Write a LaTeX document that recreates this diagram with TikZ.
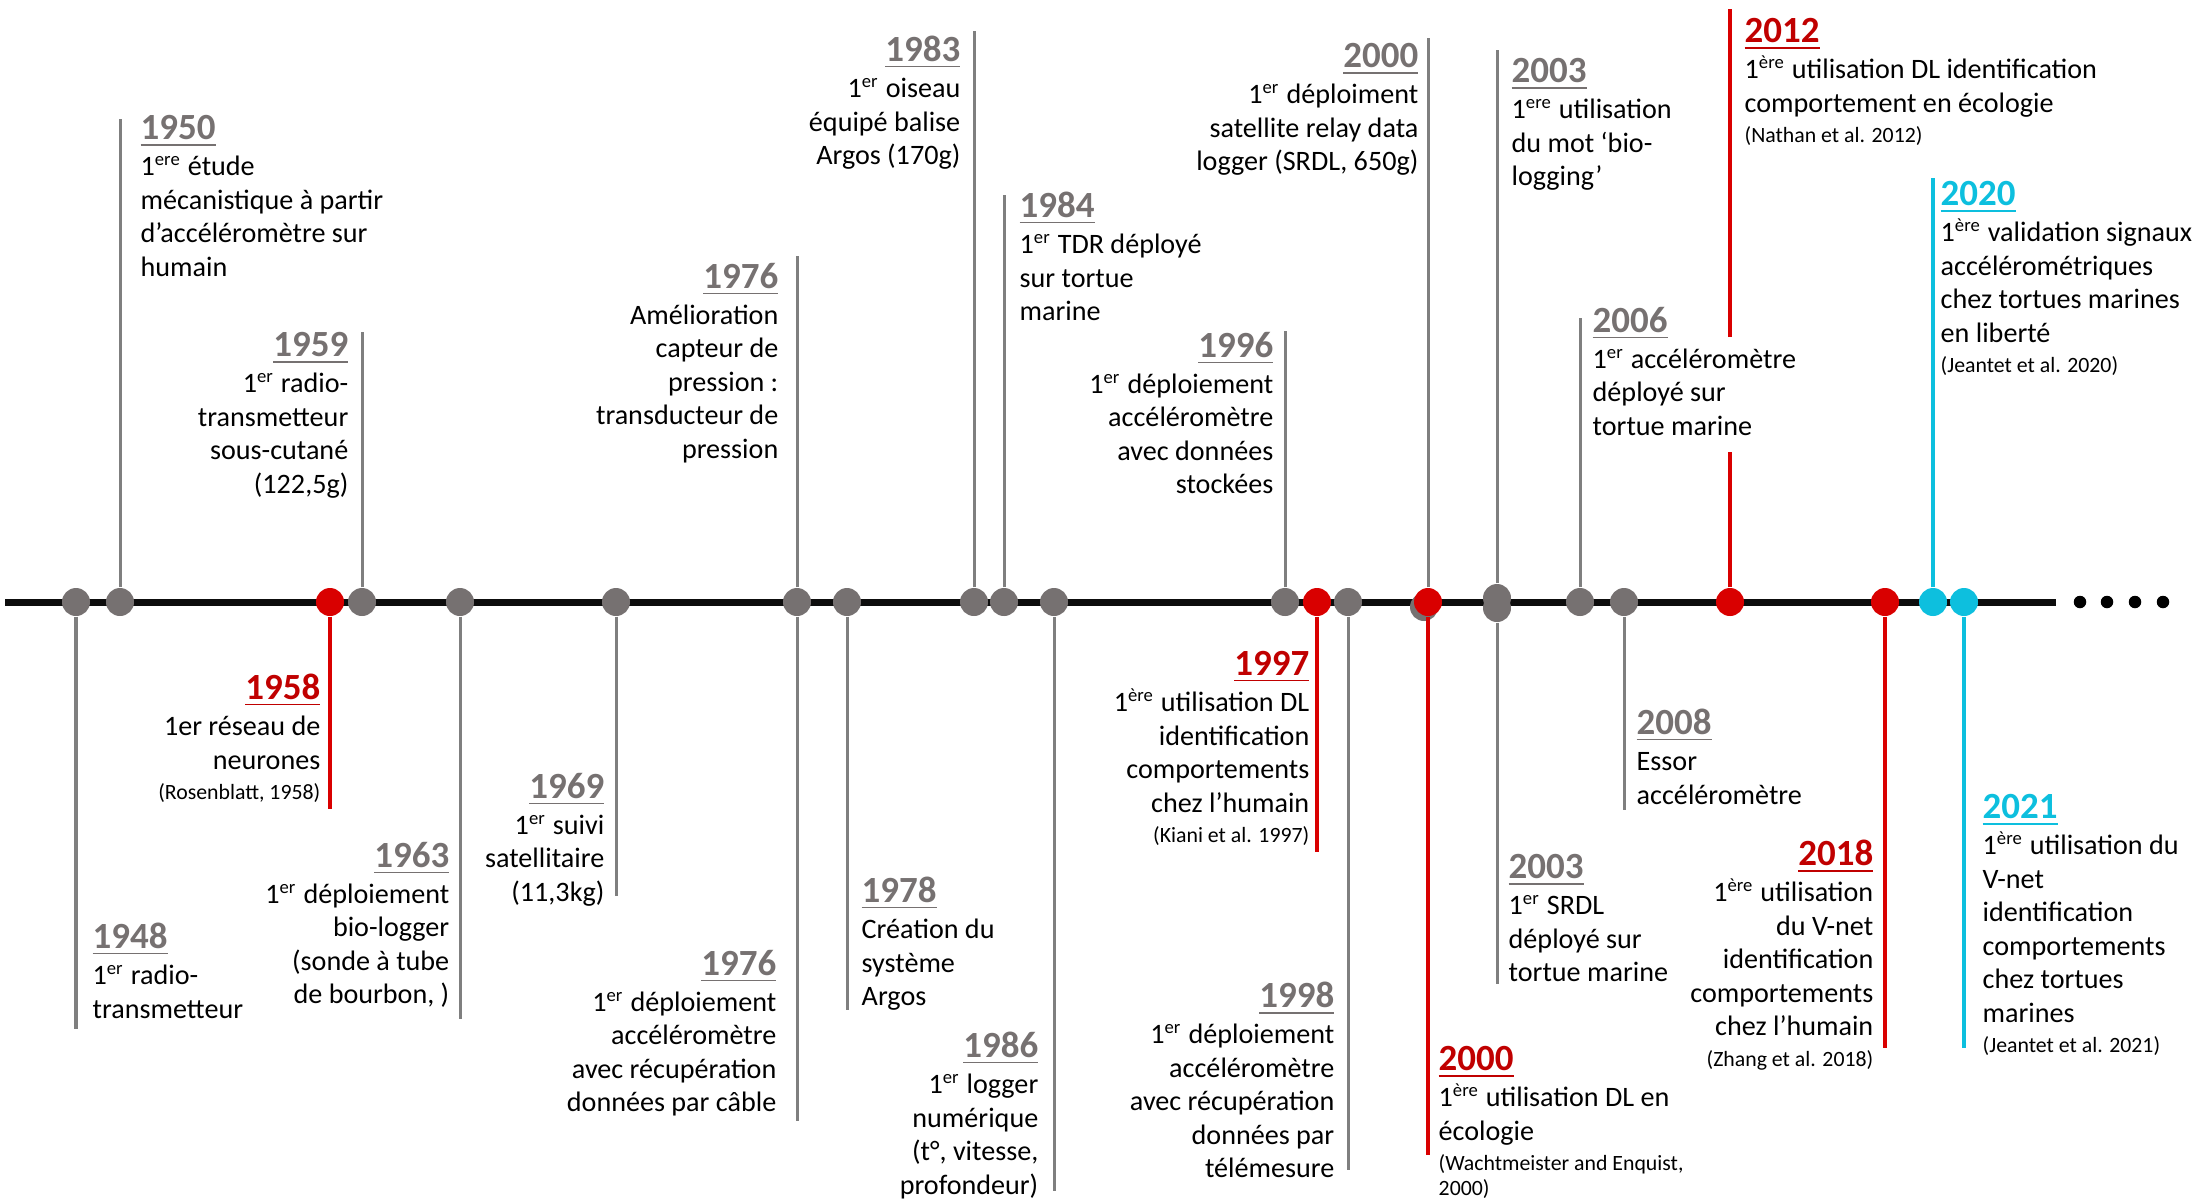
\documentclass[tikz,border=0pt]{standalone}
\usepackage{fontspec}
\setmainfont{Carlito}
\definecolor{tlgray}{HTML}{767171}
\definecolor{tlstem}{HTML}{7F7F7F}
\definecolor{tlred}{HTML}{D90000}
\definecolor{tlyred}{HTML}{C00000}
\definecolor{tlcyan}{HTML}{0DBFDE}
\definecolor{tlblack}{HTML}{0D0D0D}
\newcommand{\bodyfont}{\fontsize{8}{9.53}\selectfont}
\newcommand{\yrfont}{\fontsize{10.5}{12}\selectfont\bfseries}
\newcommand{\reffont}{\fontsize{6.2}{7.1}\selectfont}
\newcommand{\yr}[2]{\rule{0pt}{7pt}\textcolor{#1}{\yrfont\underline{#2}}}
\newcommand{\exps}[1]{\textsuperscript{\fontsize{5.3}{5}\selectfont #1}}
\tikzset{
  axisline/.style={line width=0.07cm, draw=tlblack},
  dot/.style={circle, inner sep=0pt, minimum size=0.28cm},
  dotg/.style={dot, fill=tlgray},
  dotr/.style={dot, fill=tlred},
  dotc/.style={dot, fill=tlcyan},
  enddot/.style={circle, inner sep=0pt, minimum size=0.125cm, fill=black},
  stemg/.style={line width=0.03cm, draw=tlstem},
  stemr/.style={line width=0.035cm, draw=tlred},
  stemc/.style={line width=0.035cm, draw=tlcyan},
  evtl/.style={anchor=north west, yshift=7pt, align=left, inner sep=0pt, font=\bodyfont},
  evtr/.style={anchor=north east, yshift=7pt, align=right, inner sep=0pt, font=\bodyfont}
}

\begin{document}
\begin{tikzpicture}[x=0.01cm, y=-0.01cm]
  \useasboundingbox (0,0) rectangle (2196,1199);

  % time axis
  \coordinate (axL) at (5,602);
  \coordinate (axR) at (2056,602);
  \draw[axisline] (axL) -- (axR);
  \foreach \x in {2080,2107,2135,2163}
    \node[enddot] (end\x) at (\x,602) {};

  % dots on the axis
  \node[dotg] (p1948) at (76,602) {};
  \node[dotg] (p1950) at (120,602) {};
  \node[dotr] (p1958) at (330,602) {};
  \node[dotg] (p1959) at (362,602) {};
  \node[dotg] (p1963) at (460,602) {};
  \node[dotg] (p1969) at (616,602) {};
  \node[dotg] (p1976) at (797,602) {};
  \node[dotg] (p1978) at (847,602) {};
  \node[dotg] (p1983) at (974,602) {};
  \node[dotg] (p1984) at (1004,602) {};
  \node[dotg] (p1986) at (1054,602) {};
  \node[dotg] (p1996) at (1285,602) {};
  \node[dotr] (p1997) at (1317,602) {};
  \node[dotg] (p1998) at (1348,602) {};
  \node[dotg] (p2000b) at (1424,607) {};
  \node[dotr] (p2000) at (1428,602) {};
  \node[dotg] (p2003b) at (1497,608) {};
  \node[dotg] (p2003) at (1497,598) {};
  \node[dotg] (p2006) at (1580,602) {};
  \node[dotg] (p2008) at (1624,602) {};
  \node[dotr] (p2012) at (1730,602) {};
  \node[dotr] (p2018) at (1885,602) {};
  \node[dotc] (p2020) at (1933,602) {};
  \node[dotc] (p2021) at (1964,602) {};

  % stems
  \foreach \n/\p/\y in {1948/1948/1029, 1950/1950/119, 1959/1959/332,
      1963/1963/1019, 1969/1969/896, 1976a/1976/256, 1976b/1976/1121,
      1978/1978/1010, 1983/1983/31, 1984/1984/195, 1986/1986/1191,
      1996/1996/331, 1998/1998/1170, 2000a/2000/38, 2003a/2003/50,
      2003b/2003b/984, 2006/2006/318, 2008/2008/810} {
    \coordinate (s\n) at (p\p |- 0,\y);
    \draw[stemg] (p\p) -- (s\n);
  }
  \foreach \n/\p/\y in {1958/1958/809, 1997/1997/852, 2000b/2000/1155,
      2012a/2012/452, 2018/2018/1048} {
    \coordinate (s\n) at (p\p |- 0,\y);
    \draw[stemr] (p\p) -- (s\n);
  }
  \coordinate (s2012b) at (p2012 |- 0,337);
  \coordinate (s2012c) at (p2012 |- 0,9);
  \draw[stemr] (s2012b) -- (s2012c);
  \coordinate (s2020) at (p2020 |- 0,178);
  \coordinate (s2021) at (p2021 |- 0,1048);
  \draw[stemc] (p2020) -- (s2020);
  \draw[stemc] (p2021) -- (s2021);

  % events, text on the right of the stem
  \node[evtl] (t1948) at (92,947) {\yr{tlgray}{1948}\\[0.7pt]
    1\exps{er} radio-\\ transmetteur};
  \node[evtl] (t1950) at (140,139) {\yr{tlgray}{1950}\\[0.7pt]
    1\exps{ere} étude\\ mécanistique à partir\\
    d’accéléromètre sur\\ humain};
  \node[evtl] (t1978) at (861,901) {\yr{tlgray}{1978}\\[0.7pt]
    Création du\\ système\\ Argos};
  \node[evtl] (t1984) at (1019,216) {\yr{tlgray}{1984}\\[0.7pt]
    1\exps{er} TDR déployé\\ sur tortue\\ marine};
  \node[evtl] (t2000b) at (1438,1070) {\yr{tlyred}{2000}\\[0.7pt]
    1\exps{ère} utilisation DL en\\ écologie\\[-0.8pt]
    {\reffont (Wachtmeister and Enquist,}\\[-2.4pt] {\reffont 2000)}};
  \node[evtl] (t2003a) at (1511,82) {\yr{tlgray}{2003}\\[0.7pt]
    1\exps{ere} utilisation\\ du mot ‘bio-\\ logging’};
  \node[evtl] (t2003b) at (1508,878) {\yr{tlgray}{2003}\\[0.7pt]
    1\exps{er} SRDL\\ déployé sur\\ tortue marine};
  \node[evtl] (t2006) at (1592,331) {\yr{tlgray}{2006}\\[0.7pt]
    1\exps{er} accéléromètre\\ déployé sur\\ tortue marine};
  \node[evtl] (t2008) at (1636,733) {\yr{tlgray}{2008}\\[0.7pt]
    Essor\\ accéléromètre};
  \node[evtl] (t2012) at (1744,42) {\yr{tlyred}{2012}\\[0.7pt]
    1\exps{ère} utilisation DL identification\\
    comportement en écologie\\[-0.8pt] {\reffont (Nathan et al. 2012)}};
  \node[evtl] (t2020) at (1940,205) {\yr{tlcyan}{2020}\\[0.7pt]
    1\exps{ère} validation signaux\\ accélérométriques\\
    chez tortues marines\\ en liberté\\[-0.8pt]
    {\reffont (Jeantet et al. 2020)}};
  \node[evtl] (t2021) at (1982,818) {\yr{tlcyan}{2021}\\[0.7pt]
    1\exps{ère} utilisation du\\ V-net\\ identification\\
    comportements\\ chez tortues\\ marines\\[-0.8pt]
    {\reffont (Jeantet et al. 2021)}};

  % events, text on the left of the stem
  \node[evtr] (t1958) at (321,698) {\yr{tlyred}{1958}\\[0.7pt]
    1er réseau de\\ neurones\\[-0.8pt] {\reffont (Rosenblatt, 1958)}};
  \node[evtr] (t1959) at (349,356) {\yr{tlgray}{1959}\\[0.7pt]
    1\exps{er} radio-\\ transmetteur\\ sous-cutané\\ (122,5g)};
  \node[evtr] (t1963) at (450,866) {\yr{tlgray}{1963}\\[0.7pt]
    1\exps{er} déploiement\\ bio-logger\\ (sonde à tube\\
    de bourbon, )};
  \node[evtr] (t1969) at (605,797) {\yr{tlgray}{1969}\\[0.7pt]
    1\exps{er} suivi\\ satellitaire\\ (11,3kg)};
  \node[evtr] (t1976a) at (779,287) {\yr{tlgray}{1976}\\[0.7pt]
    Amélioration\\ capteur de\\ pression :\\ transducteur de\\ pression};
  \node[evtr] (t1976b) at (777,974) {\yr{tlgray}{1976}\\[0.7pt]
    1\exps{er} déploiement\\ accéléromètre\\
    avec récupération\\ données par câble};
  \node[evtr] (t1983) at (961,60) {\yr{tlgray}{1983}\\[0.7pt]
    1\exps{er} oiseau\\ équipé balise\\ Argos (170g)};
  \node[evtr] (t1986) at (1039,1056) {\yr{tlgray}{1986}\\[0.7pt]
    1\exps{er} logger\\ numérique\\ (t°, vitesse,\\ profondeur)};
  \node[evtr] (t1996) at (1274,356) {\yr{tlgray}{1996}\\[0.7pt]
    1\exps{er} déploiement\\ accéléromètre\\ avec données\\
    stockées};
  \node[evtr] (t1997) at (1310,675) {\yr{tlyred}{1997}\\[0.7pt]
    1\exps{ère} utilisation DL\\ identification\\
    comportements\\ chez l’humain\\[-0.8pt]
    {\reffont (Kiani et al. 1997)}};
  \node[evtr] (t1998) at (1335,1006) {\yr{tlgray}{1998}\\[0.7pt]
    1\exps{er} déploiement\\ accéléromètre\\
    avec récupération\\ données par\\ télémesure};
  \node[evtr] (t2000a) at (1419,67) {\yr{tlgray}{2000}\\[0.7pt]
    1\exps{er} déploiment\\ satellite relay data\\
    logger (SRDL, 650g)};
  \node[evtr] (t2018) at (1874,864) {\yr{tlyred}{2018}\\[0.7pt]
    1\exps{ère} utilisation\\ du V-net\\ identification\\
    comportements\\ chez l’humain\\[-0.8pt]
    {\reffont (Zhang et al. 2018)}};
\end{tikzpicture}
\end{document}
